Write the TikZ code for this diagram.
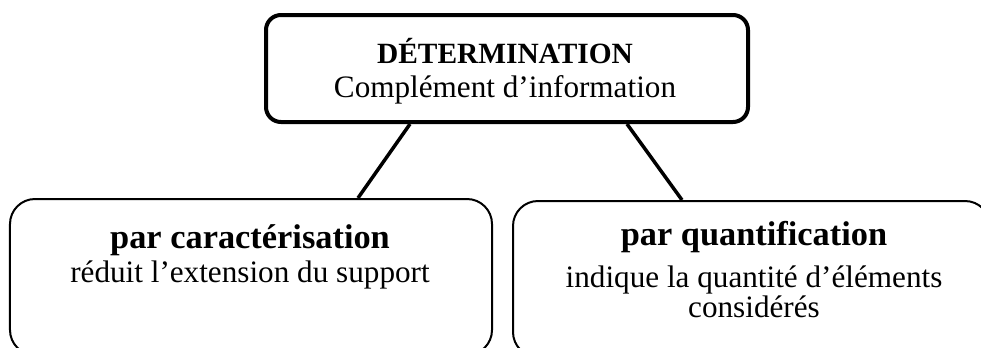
\documentclass[tikz,border=0pt]{standalone}
\usepackage{fontspec}
\setmainfont{Liberation Serif}
\usetikzlibrary{positioning,calc}

\tikzset{
  headbox/.style={draw, rounded corners=15bp, line width=4bp, minimum width=482bp, minimum height=107bp},
  subbox/.style={draw, rounded corners=25bp, line width=2bp, minimum height=156bp},
  link/.style={line width=3.5bp},
  bigtitle/.style={anchor=base, font=\bfseries\fontsize{29.5}{34}\selectfont},
  subtitle/.style={anchor=base, font=\bfseries\fontsize{34.5}{40}\selectfont},
  gloss/.style={anchor=base, font=\fontsize{31.3}{34}\selectfont},
}

\begin{document}
\begin{tikzpicture}[x=1bp,y=-1bp]
    \clip (0,0) rectangle (981,347);
    \fill[white] (0,0) rectangle (981,347);
    % boxes
    \node[headbox]                       (top)  at (507,68.5) {};
    \node[subbox, minimum width=482bp]   (lbox) at (251,277)  {};
    \node[subbox, minimum width=477bp]   (rbox) at (751.5,279) {};
    % texts
    \node[bigtitle] (topt)  at (505,63)  {DÉTERMINATION};
    \node[gloss]    (topg)  at (505,97)  {Complément d’information};
    \node[subtitle] (lboxt) at (250,248) {par caractérisation};
    \node[gloss]    (lboxg) at (250,282) {réduit l’extension du support};
    \node[subtitle] (rboxt) at (754,245) {par quantification};
    \node[gloss]    (rboxg) at (754,287) {indique la quantité d’éléments};
    \node[gloss]    (rboxh) at (754,317) {considérés};
    % links
    \draw[link] ([xshift=-97bp]top.south) -- ([xshift=107bp]lbox.north);
    \draw[link] ([xshift=120bp]top.south) -- ([xshift=-69.5bp]rbox.north);
\end{tikzpicture}
\end{document}
